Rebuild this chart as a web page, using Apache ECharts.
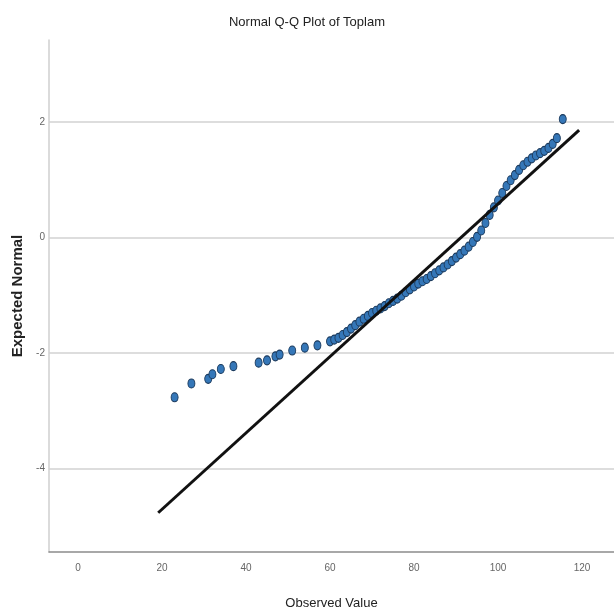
<!DOCTYPE html>
<html>
<head>
<meta charset="utf-8">
<script src="https://cdn.jsdelivr.net/npm/echarts@6/dist/echarts.min.js"></script>
<style>
  html, body { margin: 0; padding: 0; background: #fff; }
  #chart { width: 614px; height: 615px; }
</style>
</head>
<body>
<div id="chart"></div>
<script>
var observed = [23, 27, 31, 32, 34, 37, 43, 45, 47, 48, 51, 54, 57, 60, 61, 62, 63, 64, 65, 66,
  67, 68, 69, 70, 71, 72, 73, 74, 75, 76, 77, 78, 79, 80, 81, 82, 83, 84, 85, 86,
  87, 88, 89, 90, 91, 92, 93, 94, 95, 96, 97, 98, 99, 100, 101, 102, 103, 104, 105, 106,
  107, 108, 109, 110, 111, 112, 113, 114, 115.4];
var expected = [-2.77, -2.53, -2.45, -2.37, -2.28, -2.23, -2.17, -2.13, -2.06, -2.03, -1.96, -1.91, -1.87, -1.80, -1.77, -1.74, -1.69, -1.64, -1.58, -1.52,
  -1.46, -1.41, -1.36, -1.31, -1.27, -1.23, -1.19, -1.14, -1.10, -1.06, -1.01, -0.95, -0.90, -0.85, -0.80, -0.76, -0.72, -0.67, -0.62, -0.57,
  -0.52, -0.47, -0.41, -0.35, -0.29, -0.23, -0.16, -0.08, 0.01, 0.12, 0.25, 0.39, 0.52, 0.64, 0.77, 0.89, 0.99, 1.08, 1.17, 1.25,
  1.31, 1.37, 1.42, 1.46, 1.50, 1.55, 1.62, 1.72, 2.05];

// reference line end points
var lineX = [19.1, 119.3];
var lineY = [-4.77, 1.86];

var xTicks = [0, 20, 40, 60, 80, 100, 120];
var yTicks = [-4, -2, 0, 2];

var points = observed.map(function (v, i) { return [v, expected[i]]; });
var refLine = lineX.map(function (v, i) { return [v, lineY[i]]; });
var narrow = '"Liberation Sans Narrow", "Liberation Sans", Arial, sans-serif';

var chart = echarts.init(document.getElementById('chart'));
var option = {
  animation: false,
  backgroundColor: '#fff',
  title: {
    text: 'Normal Q-Q Plot of Toplam',
    left: 'center',
    top: 11,
    textStyle: { fontFamily: narrow, fontSize: 13, fontWeight: 'normal', color: '#222' }
  },
  grid: { left: 49, right: 0, top: 40, bottom: 63 },
  xAxis: {
    type: 'value',
    min: -6.9,
    max: 127.6,
    name: 'Observed Value',
    nameLocation: 'middle',
    nameGap: 45,
    nameTextStyle: { fontFamily: narrow, fontSize: 13, color: '#222' },
    axisLine: { onZero: false, lineStyle: { color: '#8c8c8c', width: 1.5 } },
    axisTick: { show: false },
    splitLine: { show: false },
    axisLabel: {
      customValues: xTicks,
      margin: 11,
      fontFamily: narrow,
      fontSize: 10,
      color: '#666'
    }
  },
  yAxis: {
    type: 'value',
    min: -5.45,
    max: 3.42,
    name: 'Expected Normal',
    nameLocation: 'middle',
    nameGap: 20,
    nameTextStyle: { fontFamily: '"Liberation Sans", Arial, sans-serif', fontSize: 15, fontWeight: 'bold', color: '#222' },
    axisLine: { show: true, onZero: false, lineStyle: { color: '#cfcfcf', width: 1.5 } },
    axisTick: { show: false },
    splitLine: { show: false },
    axisLabel: {
      customValues: yTicks,
      margin: 4,
      fontFamily: narrow,
      fontSize: 10,
      color: '#666'
    }
  },
  series: [
    {
      type: 'scatter',
      data: points,
      z: 3,
      symbol: 'circle',
      symbolSize: [7, 9],
      itemStyle: { color: '#3577b8', borderColor: '#1c3a5c', borderWidth: 1, opacity: 1 },
      markLine: {
        silent: true,
        z: 1,
        symbol: 'none',
        label: { show: false },
        lineStyle: { color: '#d2d2d2', width: 1.5, type: 'solid' },
        data: yTicks.map(function (v) { return { yAxis: v }; })
      }
    },
    {
      type: 'line',
      data: refLine,
      z: 4,
      symbol: 'none',
      lineStyle: { color: '#111', width: 3 }
    }
  ]
};
chart.setOption(option);
</script>
</body>
</html>
